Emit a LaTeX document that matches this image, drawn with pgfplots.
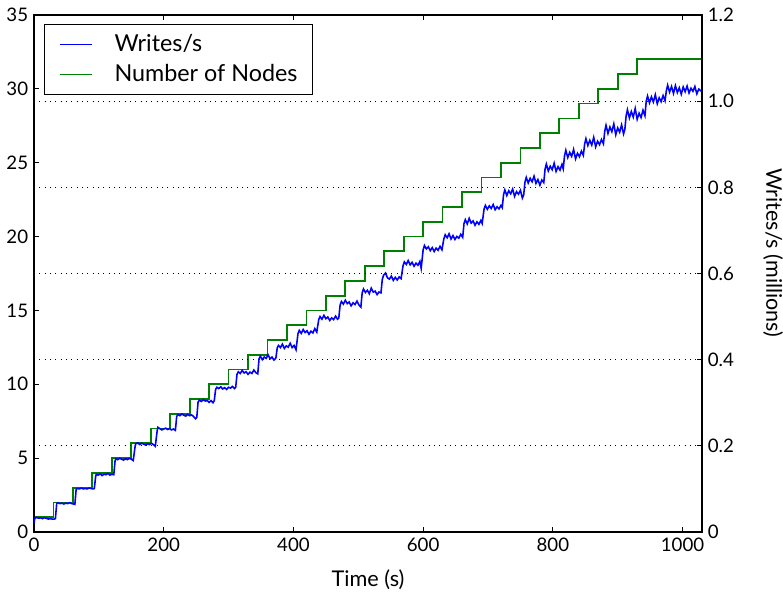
\documentclass[border=0pt]{standalone}
\usepackage{fontspec}
\setmainfont{Lato}
\usepackage{pgfplots}
\pgfplotsset{compat=1.18}
\definecolor{mplgreen}{rgb}{0,0.5,0}
\definecolor{mplblue}{rgb}{0,0,1}
\newcommand{\ticksize}{\fontsize{11.2}{13}\selectfont}
\begin{document}
\begin{tikzpicture}
\path[use as bounding box] (-20.4pt,-36pt) rectangle (449.4pt,319.2pt);
\begin{axis}[
  scale only axis, width=400.8pt, height=310.2pt,
  xmin=0, xmax=1030, ymin=0, ymax=35,
  xtick={0,200,400,600,800,1000}, ytick={0,5,10,15,20,25,30,35},
  tick align=inside, xtick pos=both, xticklabel pos=lower, ytick pos=left,
  major tick length=3pt,
  tick style={black, line width=0.6pt},
  axis line style={line width=0.9pt},
  tick label style={font=\ticksize},
  /pgf/number format/assume math mode=true,
  /pgf/number format/1000 sep={},
  xlabel={Time (s)},
  xlabel style={font=\fontsize{13}{15}\selectfont, at={(axis description cs:0.5,-0.0928)}, anchor=center},
]
\addplot[const plot, mplgreen, line width=1.05pt] coordinates {
(0,1) (30,2) (60,3) (90,4) (120,5) (150,6) (180,7) (210,8) (240,9) (270,10)
(300,11) (330,12) (360,13) (390,14) (420,15) (450,16) (480,17) (510,18) (540,19) (570,20)
(600,21) (630,22) (660,23) (690,24) (720,25) (750,26) (780,27) (810,28) (840,29) (870,30)
(900,31) (930,32) (1030,32)};
\end{axis}
\begin{axis}[
  scale only axis, width=400.8pt, height=310.2pt,
  xmin=0, xmax=1030, ymin=0, ymax=1.2,
  hide x axis,
  ytick={0,0.2,0.4,0.6,0.8,1.0,1.2},
  yticklabels={0,0.2,0.4,0.6,0.8,1.0,1.2},
  tick align=inside, ytick pos=right, yticklabel pos=right,
  major tick length=3pt,
  tick style={black, line width=0.6pt},
  axis line style={line width=0.9pt},
  tick label style={font=\ticksize},
  ymajorgrids,
  grid style={black, line width=0.6pt, dash pattern=on 0.6pt off 2.6pt},
  ylabel={Writes/s (millions)},
  ylabel style={font=\fontsize{12.9}{15}\selectfont, rotate=180, at={(axis description cs:1.1063,0.54)}, anchor=center},
  legend style={at={(axis description cs:0.015,0.9826)}, anchor=north west, draw=black, line width=0.6pt,
    font=\fontsize{14}{17}\selectfont, inner xsep=9pt, inner ysep=5.5pt,
    nodes={inner sep=0pt, text height=10.5pt, text depth=2.5pt}, row sep=5pt, column sep=13.2pt},
  legend cell align=left,
  legend image code/.code={\draw[#1, line width=0.6pt] (0pt,0pt) -- (19.2pt,0pt);},
]
\addplot[mplblue, line width=0.95pt] coordinates {
(0,0.020) (1,0.031) (4,0.034) (7,0.032) (10,0.033) (13,0.031) (16,0.033) (19,0.032) (22,0.030) (25,0.031) (28,0.030) (31,0.030) (33,0.031)
(35,0.066) (37,0.068) (40,0.066) (43,0.067) (46,0.065) (49,0.067) (52,0.066) (55,0.068) (58,0.066) (61,0.065) (63,0.064)
(65,0.099) (67,0.101) (70,0.100) (73,0.102) (76,0.100) (79,0.101) (82,0.100) (85,0.102) (88,0.101) (91,0.100) (93,0.101)
(95,0.128) (96,0.134) (99,0.132) (102,0.135) (105,0.131) (108,0.134) (111,0.133) (114,0.136) (117,0.132) (120,0.134) (123,0.133)
(125,0.165) (126,0.170) (129,0.168) (132,0.171) (135,0.169) (138,0.167) (141,0.170) (144,0.168) (147,0.171) (150,0.169) (153,0.166)
(156,0.200) (157,0.205) (160,0.207) (163,0.203) (166,0.206) (169,0.204) (172,0.202) (175,0.205) (178,0.203) (181,0.206) (184,0.203) (187,0.199)
(190,0.236) (191,0.243) (194,0.240) (197,0.237) (200,0.239) (203,0.241) (206,0.238) (209,0.240) (212,0.237) (215,0.239) (218,0.236)
(220,0.268) (222,0.273) (225,0.270) (228,0.274) (231,0.271) (234,0.269) (237,0.273) (240,0.270) (243,0.272) (246,0.268) (249,0.263) (251,0.266)
(253,0.302) (255,0.306) (258,0.303) (261,0.307) (264,0.304) (267,0.305) (270,0.301) (273,0.305) (276,0.300) (278,0.305)
(280,0.331) (282,0.336) (285,0.333) (288,0.337) (291,0.332) (294,0.335) (297,0.331) (300,0.336) (303,0.334) (306,0.338) (309,0.333) (311,0.336)
(313,0.366) (315,0.372) (318,0.368) (321,0.375) (324,0.369) (327,0.372) (330,0.366) (333,0.371) (336,0.368) (339,0.376) (342,0.370) (345,0.367)
(347,0.402) (349,0.408) (352,0.400) (355,0.406) (358,0.403) (361,0.411) (364,0.402) (367,0.406) (370,0.399) (373,0.404)
(375,0.427) (377,0.433) (380,0.428) (383,0.436) (386,0.426) (389,0.432) (392,0.429) (395,0.438) (398,0.428) (401,0.433) (404,0.423)
(407,0.460) (409,0.468) (412,0.461) (415,0.470) (418,0.463) (421,0.467) (424,0.459) (427,0.466) (430,0.462) (433,0.472) (436,0.464)
(439,0.493) (441,0.500) (444,0.494) (447,0.503) (450,0.495) (453,0.499) (456,0.491) (459,0.497) (462,0.493) (465,0.501) (468,0.494) (470,0.497)
(472,0.527) (474,0.535) (477,0.529) (480,0.538) (483,0.530) (486,0.534) (489,0.525) (492,0.532) (495,0.528) (498,0.536) (501,0.527) (504,0.522)
(506,0.555) (508,0.564) (511,0.556) (514,0.561) (517,0.553) (520,0.566) (523,0.557) (526,0.559) (529,0.551) (532,0.557) (535,0.555)
(537,0.586) (539,0.596) (542,0.601) (545,0.590) (548,0.587) (551,0.594) (554,0.584) (557,0.591) (560,0.585) (563,0.592) (566,0.588)
(569,0.618) (571,0.627) (574,0.621) (577,0.630) (580,0.620) (583,0.626) (586,0.617) (589,0.624) (592,0.619) (595,0.628) (597,0.612)
(600,0.655) (602,0.665) (605,0.657) (608,0.662) (611,0.653) (614,0.660) (617,0.651) (620,0.659) (623,0.654) (626,0.663) (629,0.655)
(632,0.681) (634,0.690) (637,0.683) (640,0.692) (643,0.680) (646,0.688) (649,0.679) (652,0.686) (655,0.682) (658,0.691) (661,0.684)
(663,0.716) (665,0.725) (668,0.715) (671,0.728) (674,0.717) (677,0.722) (680,0.712) (683,0.720) (686,0.714) (689,0.723) (691,0.716)
(694,0.750) (696,0.758) (699,0.749) (702,0.757) (705,0.751) (708,0.760) (711,0.748) (714,0.755) (717,0.750) (720,0.758) (722,0.753)
(724,0.783) (726,0.794) (729,0.781) (732,0.792) (735,0.785) (738,0.796) (741,0.779) (744,0.790) (747,0.784) (750,0.793) (753,0.775) (755,0.782)
(757,0.812) (759,0.823) (762,0.810) (765,0.821) (768,0.813) (771,0.826) (774,0.809) (777,0.818) (780,0.805) (783,0.817) (786,0.811)
(788,0.842) (790,0.854) (793,0.838) (796,0.849) (799,0.841) (802,0.856) (805,0.837) (808,0.848) (811,0.840) (814,0.853) (816,0.843)
(818,0.873) (820,0.886) (823,0.869) (826,0.881) (829,0.872) (832,0.888) (835,0.866) (838,0.879) (841,0.871) (844,0.884) (847,0.874)
(849,0.900) (851,0.913) (854,0.897) (857,0.909) (860,0.898) (863,0.916) (866,0.894) (869,0.907) (872,0.899) (875,0.911) (878,0.901)
(880,0.930) (882,0.944) (885,0.925) (888,0.940) (891,0.929) (894,0.947) (897,0.922) (900,0.938) (903,0.928) (906,0.945) (909,0.924) (911,0.934)
(913,0.966) (915,0.980) (918,0.961) (921,0.976) (924,0.963) (927,0.983) (930,0.958) (933,0.972) (936,0.962) (939,0.979) (942,0.966)
(944,1.000) (946,1.012) (949,0.996) (952,1.010) (955,0.998) (958,1.015) (961,0.994) (964,1.008) (967,0.999) (970,1.013) (973,1.001)
(975,1.024) (977,1.037) (980,1.021) (983,1.034) (986,1.018) (989,1.036) (992,1.020) (995,1.031) (998,1.016) (1001,1.033) (1004,1.022)
(1007,1.035) (1010,1.019) (1013,1.030) (1016,1.023) (1019,1.034) (1022,1.017) (1025,1.028) (1028,1.024) (1030,1.026)};
\addlegendentry{Writes/s}
\addlegendimage{mplgreen, line width=0.8pt}
\addlegendentry{Number of Nodes}
\end{axis}
\end{tikzpicture}
\end{document}
